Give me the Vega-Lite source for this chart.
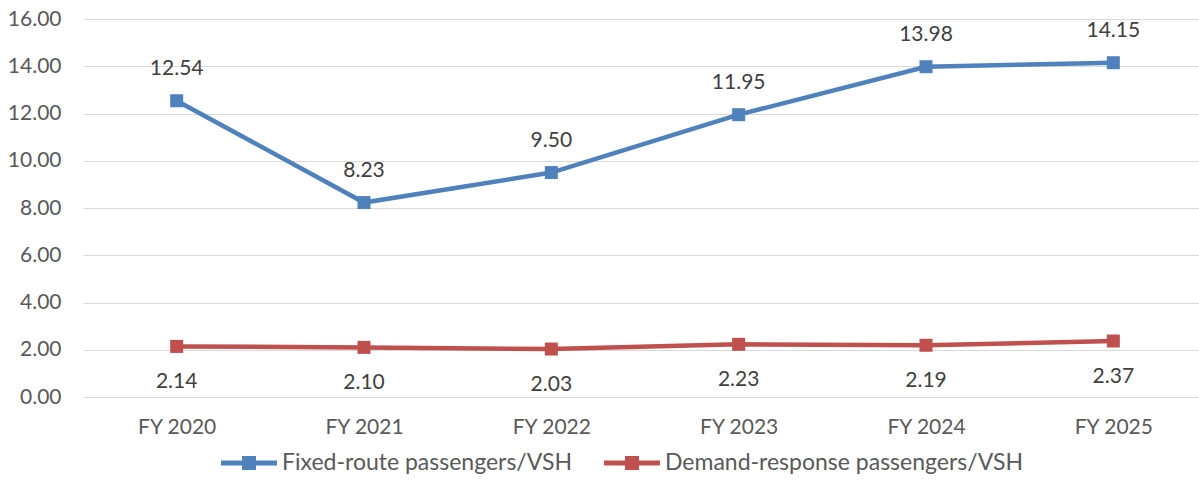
{
  "$schema": "https://vega.github.io/schema/vega-lite/v6.json",
  "width": 1124,
  "height": 378,
  "autosize": {"type": "none"},
  "padding": {"left": 83, "top": 19, "right": 0, "bottom": 97},
  "background": "white",
  "config": {"view": {"stroke": null}, "font": "Lato"},
  "data": {
    "values": [
      {"year": "FY 2020", "series": "Fixed-route passengers/VSH", "value": 12.54},
      {"year": "FY 2021", "series": "Fixed-route passengers/VSH", "value": 8.23},
      {"year": "FY 2022", "series": "Fixed-route passengers/VSH", "value": 9.50},
      {"year": "FY 2023", "series": "Fixed-route passengers/VSH", "value": 11.95},
      {"year": "FY 2024", "series": "Fixed-route passengers/VSH", "value": 13.98},
      {"year": "FY 2025", "series": "Fixed-route passengers/VSH", "value": 14.15},
      {"year": "FY 2020", "series": "Demand-response passengers/VSH", "value": 2.14},
      {"year": "FY 2021", "series": "Demand-response passengers/VSH", "value": 2.10},
      {"year": "FY 2022", "series": "Demand-response passengers/VSH", "value": 2.03},
      {"year": "FY 2023", "series": "Demand-response passengers/VSH", "value": 2.23},
      {"year": "FY 2024", "series": "Demand-response passengers/VSH", "value": 2.19},
      {"year": "FY 2025", "series": "Demand-response passengers/VSH", "value": 2.37}
    ]
  },
  "encoding": {
    "x": {
      "field": "year", "type": "nominal", "sort": null,
      "scale": {"type": "point", "padding": 0.5},
      "axis": {"title": null, "labelAngle": 0, "ticks": false, "grid": false, "domain": true, "domainColor": "#D9D9D9", "domainWidth": 1, "labelFontSize": 21, "labelColor": "#595959", "labelPadding": 19, "labelFont": "Lato"}
    },
    "y": {
      "field": "value", "type": "quantitative",
      "scale": {"domain": [0, 16], "nice": false},
      "axis": {"title": null, "values": [0, 2, 4, 6, 8, 10, 12, 14, 16], "format": ".2f", "ticks": false, "domain": false, "grid": true, "gridColor": "#D9D9D9", "gridWidth": 1, "labelFontSize": 21, "labelColor": "#595959", "labelPadding": 22, "labelFont": "Lato"}
    },
    "color": {"field": "series", "type": "nominal",
      "scale": {"domain": ["Fixed-route passengers/VSH", "Demand-response passengers/VSH"], "range": ["#4F81BD", "#C0504D"]},
      "legend": {
        "title": null, "orient": "none", "legendX": 138, "legendY": 416, "direction": "horizontal",
        "symbolType": "M-1,-0.09H1V0.09H-1Z M-0.25,-0.25H0.25V0.25H-0.25Z",
        "symbolSize": 3136, "symbolStrokeWidth": 0, "symbolOpacity": 1,
        "columnPadding": 31, "labelOffset": 5, "labelFontSize": 23, "labelColor": "#595959", "labelFont": "Lato", "labelLimit": 600,
        "encode": {"symbols": {"update": {"fill": {"scale": "color", "field": "value"}, "fillOpacity": {"value": 1}, "strokeWidth": {"value": 0}}}}
      }
    }
  },
  "layer": [
    {
      "mark": {"type": "line", "strokeWidth": 4.5}
    },
    {
      "mark": {"type": "point", "shape": "square", "filled": true, "opacity": 1, "size": 169}
    },
    {
      "transform": [{"filter": "datum.series === 'Fixed-route passengers/VSH'"}],
      "mark": {"type": "text", "dy": -32, "baseline": "middle", "fontSize": 21, "color": "#404040", "font": "Lato"},
      "encoding": {"text": {"field": "value", "type": "quantitative", "format": ".2f"}, "color": {"value": "#404040"}}
    },
    {
      "transform": [{"filter": "datum.series === 'Demand-response passengers/VSH'"}],
      "mark": {"type": "text", "dy": 36, "baseline": "middle", "fontSize": 21, "color": "#404040", "font": "Lato"},
      "encoding": {"text": {"field": "value", "type": "quantitative", "format": ".2f"}, "color": {"value": "#404040"}}
    }
  ]
}
